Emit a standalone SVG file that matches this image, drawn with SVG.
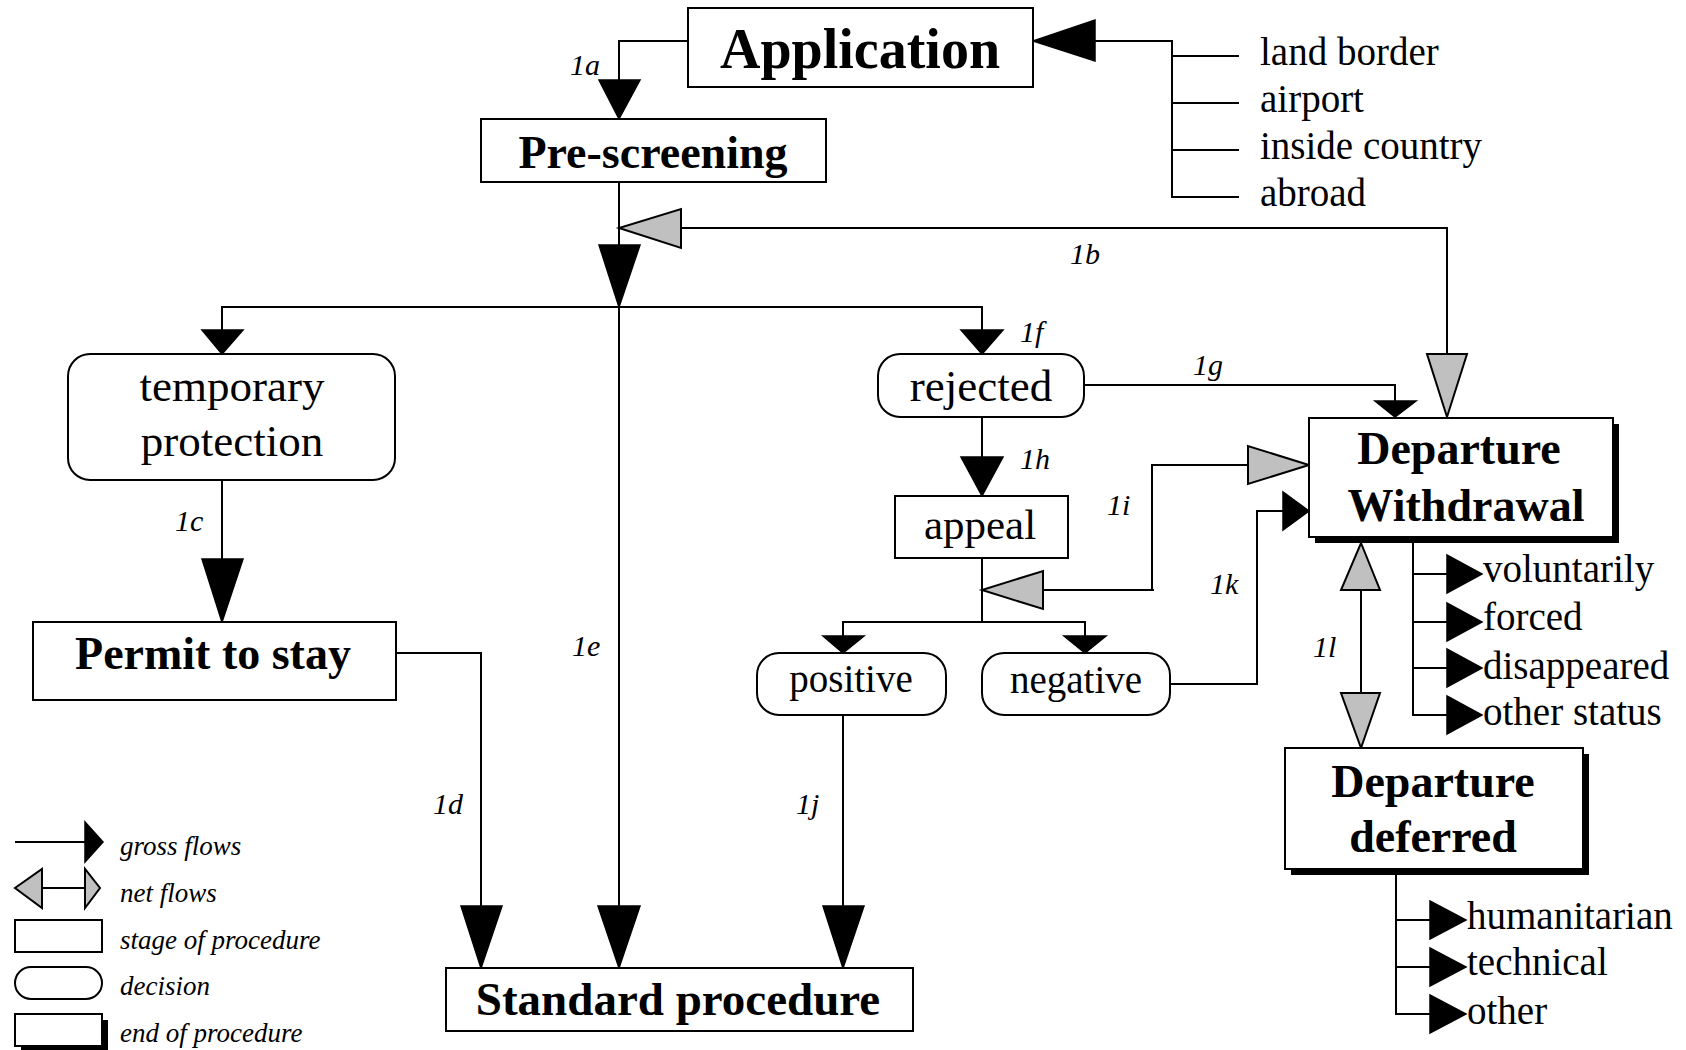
<svg xmlns="http://www.w3.org/2000/svg" width="1686" height="1050" viewBox="0 0 1686 1050">
<style>
.bx{fill:#fff;stroke:#000;stroke-width:2}
.sh{fill:#000}
.ln{fill:none;stroke:#000;stroke-width:2}
.ab{fill:#000;stroke:#000;stroke-width:1.5;stroke-linejoin:miter}
.ag{fill:#c0c0c0;stroke:#000;stroke-width:2;stroke-linejoin:miter}
text{font-family:"Liberation Serif","Times New Roman",serif;fill:#000}
.tb{font-weight:bold;text-anchor:middle}
.tr{text-anchor:middle}
.lab{font-style:italic;font-size:30px}
.leg{font-style:italic;font-size:27px}
.li{font-size:39px}
</style>
<rect width="1686" height="1050" fill="#fff"/>
<g id="connectors">
<path class="ln" d="M688,41 H619 V80"/>
<polygon class="ab" points="599,80 640,80 619,119"/>
<path class="ln" d="M619,182 V906"/>
<polygon class="ab" points="599,245 640,245 619,307"/>
<polygon class="ab" points="598,906 640,906 619,968"/>
<path class="ln" d="M222,330 V307 H982 V330"/>
<polygon class="ab" points="202,330 243,330 222,354"/>
<polygon class="ab" points="961,330 1003,330 982,354"/>
<path class="ln" d="M681,228 H1447 V354"/>
<polygon class="ag" points="681,209 681,248 619,228"/>
<polygon class="ag" points="1427,354 1467,354 1447,417"/>
<path class="ln" d="M222,480 V559"/>
<polygon class="ab" points="202,559 243,559 222,622"/>
<path class="ln" d="M396,653 H481 V906"/>
<polygon class="ab" points="461,906 502,906 481,968"/>
<path class="ln" d="M1084,385 H1395 V401"/>
<polygon class="ab" points="1375,401 1416,401 1395,417"/>
<path class="ln" d="M982,417 V457"/>
<polygon class="ab" points="961,457 1003,457 982,496"/>
<path class="ln" d="M982,558 V622 M843,636 V622 H1085 V636"/>
<polygon class="ab" points="823,636 864,636 843,653"/>
<polygon class="ab" points="1064,636 1106,636 1085,653"/>
<path class="ln" d="M1043,590 H1154 M1152,590 V465 H1248"/>
<polygon class="ag" points="1043,571 1043,609 982,590"/>
<polygon class="ag" points="1248,446 1248,484 1309,465"/>
<path class="ln" d="M843,715 V906"/>
<polygon class="ab" points="823,906 864,906 843,968"/>
<path class="ln" d="M1170,684 H1257 V511 H1283"/>
<polygon class="ab" points="1283,492 1283,530 1309,511"/>
<path class="ln" d="M1361,590 V693"/>
<polygon class="ag" points="1341,590 1380,590 1361,543"/>
<polygon class="ag" points="1341,693 1380,693 1361,748"/>
<path class="ln" d="M1095,41 H1172 V197 H1239 M1172,56 H1239 M1172,103 H1239 M1172,150 H1239"/>
<polygon class="ab" points="1095,20 1095,61 1033,41"/>
<path class="ln" d="M1413,543 V715 H1447 M1413,574 H1447 M1413,622 H1447 M1413,668 H1447"/>
<polygon class="ab" points="1447,555 1447,593 1482,574"/>
<polygon class="ab" points="1447,603 1447,641 1482,622"/>
<polygon class="ab" points="1447,649 1447,687 1482,668"/>
<polygon class="ab" points="1447,696 1447,734 1482,715"/>
<path class="ln" d="M1396,875 V1014 H1430 M1396,920 H1430 M1396,967 H1430"/>
<polygon class="ab" points="1430,901 1430,939 1466,920"/>
<polygon class="ab" points="1430,948 1430,986 1466,967"/>
<polygon class="ab" points="1430,995 1430,1033 1466,1014"/>
</g>
<g id="labels">
<text class="lab" x="570" y="75">1a</text>
<text class="lab" x="1070" y="264">1b</text>
<text class="lab" x="175" y="531">1c</text>
<text class="lab" x="433" y="814">1d</text>
<text class="lab" x="572" y="656">1e</text>
<text class="lab" x="1020" y="342">1f</text>
<text class="lab" x="1193" y="375">1g</text>
<text class="lab" x="1020" y="469">1h</text>
<text class="lab" x="1107" y="515">1i</text>
<text class="lab" x="796" y="814">1j</text>
<text class="lab" x="1210" y="594">1k</text>
<text class="lab" x="1313" y="657">1l</text>
</g>
<g id="application">
<rect class="bx" x="688" y="8" width="345" height="79"/>
<text class="tb" x="860" y="68" font-size="56">Application</text>
</g>
<g id="sources">
<text class="li" x="1260" y="65" font-size="38">land border</text>
<text class="li" x="1260" y="112">airport</text>
<text class="li" x="1260" y="159">inside country</text>
<text class="li" x="1260" y="206">abroad</text>
</g>
<g id="prescreening">
<rect class="bx" x="481" y="119" width="345" height="63"/>
<text class="tb" x="653" y="168" font-size="46">Pre-screening</text>
</g>
<g id="temporary-protection">
<rect class="bx" x="68" y="354" width="327" height="126" rx="22"/>
<text class="tr" x="232" y="401" font-size="45">temporary</text>
<text class="tr" x="232" y="456" font-size="45">protection</text>
</g>
<g id="permit">
<rect class="bx" x="33" y="622" width="363" height="78"/>
<text class="tb" x="213" y="669" font-size="46">Permit to stay</text>
</g>
<g id="standard">
<rect class="bx" x="446" y="968" width="467" height="63"/>
<text class="tb" x="678" y="1015" font-size="47">Standard procedure</text>
</g>
<g id="rejected">
<rect class="bx" x="878" y="354" width="206" height="63" rx="22"/>
<text class="tr" x="981" y="401" font-size="45">rejected</text>
</g>
<g id="appeal">
<rect class="bx" x="895" y="496" width="173" height="62"/>
<text class="tr" x="980" y="539" font-size="43">appeal</text>
</g>
<g id="positive">
<rect class="bx" x="757" y="653" width="189" height="62" rx="22"/>
<text class="tr" x="851" y="692" font-size="39">positive</text>
</g>
<g id="negative">
<rect class="bx" x="982" y="653" width="188" height="62" rx="22"/>
<text class="tr" x="1076" y="693" font-size="39">negative</text>
</g>
<g id="departure-withdrawal">
<rect class="sh" x="1315" y="424" width="304" height="119"/>
<rect class="bx" x="1309" y="418" width="304" height="119"/>
<text class="tb" x="1459" y="464" font-size="46">Departure</text>
<text class="tb" x="1466" y="521" font-size="46">Withdrawal</text>
</g>
<g id="dw-outcomes">
<text class="li" x="1483" y="582">voluntarily</text>
<text class="li" x="1483" y="630">forced</text>
<text class="li" x="1483" y="679">disappeared</text>
<text class="li" x="1483" y="725">other status</text>
</g>
<g id="departure-deferred">
<rect class="sh" x="1291" y="754" width="298" height="121"/>
<rect class="bx" x="1285" y="748" width="298" height="121"/>
<text class="tb" x="1433" y="797" font-size="46">Departure</text>
<text class="tb" x="1433" y="852" font-size="46">deferred</text>
</g>
<g id="dd-outcomes">
<text class="li" x="1467" y="929" font-size="40">humanitarian</text>
<text class="li" x="1467" y="975" font-size="40">technical</text>
<text class="li" x="1467" y="1024" font-size="40">other</text>
</g>
<g id="legend">
<path class="ln" d="M15,842 H85 M42,888 H85"/>
<polygon class="ab" points="85,822 85,862 103,842"/>
<polygon class="ag" points="42,869 42,908 15,888"/>
<polygon class="ag" points="85,869 85,908 100,888"/>
<rect class="bx" x="15" y="920" width="87" height="32"/>
<rect class="bx" x="15" y="967" width="87" height="32" rx="16"/>
<rect class="sh" x="21" y="1020" width="87" height="32"/>
<rect class="bx" x="15" y="1014" width="87" height="32"/>
<text class="leg" x="120" y="855">gross flows</text>
<text class="leg" x="120" y="902">net flows</text>
<text class="leg" x="120" y="949">stage of procedure</text>
<text class="leg" x="120" y="995">decision</text>
<text class="leg" x="120" y="1042">end of procedure</text>
</g>
</svg>
